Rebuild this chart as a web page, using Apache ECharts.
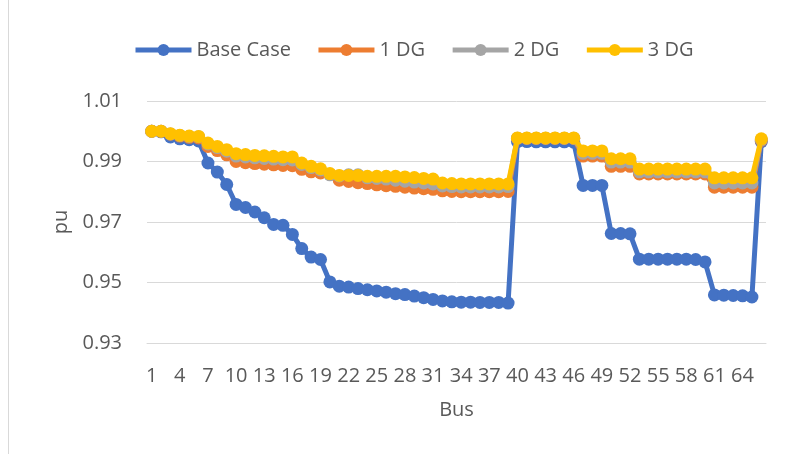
<!DOCTYPE html>
<html>
<head>
<meta charset="utf-8">
<script src="https://cdn.jsdelivr.net/npm/echarts@6/dist/echarts.min.js"></script>
<style>
html,body{margin:0;padding:0;background:#fff;}
#chart{width:788px;height:454px;}
</style>
</head>
<body>
<div id="chart"></div>
<script>
// Bus numbers (categories)
var buses = [];
for (var b = 1; b <= 66; b++) buses.push(String(b));

var yTicks = [0.93, 0.95, 0.97, 0.99, 1.01];

var baseCase = [
  1.0000, 0.9998, 0.9981, 0.9975, 0.9972, 0.9968, 0.9895, 0.9865, 0.9824, 0.9758,
  0.9748, 0.9733, 0.9714, 0.9692, 0.9689, 0.9659, 0.9612, 0.9584, 0.9576, 0.9502,
  0.9488, 0.9485, 0.9480, 0.9476, 0.9472, 0.9468, 0.9463, 0.9460, 0.9455, 0.9450,
  0.9444, 0.9439, 0.9436, 0.9435, 0.9435, 0.9434, 0.9434, 0.9434, 0.9432,
  0.9966, 0.9966, 0.9965, 0.9965, 0.9965, 0.9965, 0.9964,
  0.9821, 0.9821, 0.9821,
  0.9662, 0.9662, 0.9661,
  0.9577, 0.9577, 0.9577, 0.9577, 0.9577, 0.9577, 0.9576, 0.9568,
  0.9459, 0.9458, 0.9457, 0.9456, 0.9452,
  0.9966
];

var dg1 = [
  1.0000, 1.0000, 0.9990, 0.9984, 0.9980, 0.9978, 0.9950, 0.9936, 0.9922, 0.9900,
  0.9896, 0.9893, 0.9891, 0.9889, 0.9887, 0.9886, 0.9874, 0.9866, 0.9862, 0.9858,
  0.9838, 0.9834, 0.9830, 0.9827, 0.9823, 0.9820, 0.9818, 0.9815, 0.9812, 0.9810,
  0.9808, 0.9803, 0.9801, 0.9800, 0.9800, 0.9800, 0.9800, 0.9800, 0.9801,
  0.9976, 0.9976, 0.9976, 0.9976, 0.9976, 0.9976, 0.9976,
  0.9918, 0.9918, 0.9918,
  0.9884, 0.9884, 0.9884,
  0.9859, 0.9859, 0.9859, 0.9859, 0.9859, 0.9859, 0.9859, 0.9859,
  0.9815, 0.9815, 0.9815, 0.9815, 0.9815,
  0.9970
];

var dg2 = [
  1.0000, 1.0000, 0.9991, 0.9986, 0.9983, 0.9982, 0.9958, 0.9946, 0.9934, 0.9918,
  0.9915, 0.9912, 0.9910, 0.9908, 0.9906, 0.9905, 0.9890, 0.9880, 0.9872, 0.9856,
  0.9852, 0.9856, 0.9856, 0.9846, 0.9844, 0.9842, 0.9838, 0.9835, 0.9832, 0.9829,
  0.9826, 0.9819, 0.9817, 0.9816, 0.9816, 0.9816, 0.9816, 0.9816, 0.9817,
  0.9977, 0.9977, 0.9977, 0.9977, 0.9977, 0.9977, 0.9977,
  0.9927, 0.9927, 0.9927,
  0.9898, 0.9898, 0.9898,
  0.9866, 0.9866, 0.9866, 0.9866, 0.9866, 0.9866, 0.9866, 0.9866,
  0.9829, 0.9829, 0.9829, 0.9829, 0.9829,
  0.9972
];

var dg3 = [
  1.0000, 1.0000, 0.9992, 0.9987, 0.9984, 0.9983, 0.9961, 0.9950, 0.9939, 0.9926,
  0.9923, 0.9920, 0.9919, 0.9917, 0.9915, 0.9915, 0.9895, 0.9884, 0.9876, 0.9860,
  0.9854, 0.9854, 0.9854, 0.9851, 0.9851, 0.9851, 0.9851, 0.9849, 0.9847, 0.9844,
  0.9842, 0.9829, 0.9827, 0.9826, 0.9826, 0.9826, 0.9826, 0.9826, 0.9826,
  0.9978, 0.9978, 0.9978, 0.9978, 0.9978, 0.9978, 0.9978,
  0.9935, 0.9935, 0.9935,
  0.9909, 0.9909, 0.9909,
  0.9875, 0.9875, 0.9875, 0.9875, 0.9875, 0.9875, 0.9875, 0.9875,
  0.9846, 0.9846, 0.9846, 0.9846, 0.9846,
  0.9975
];

var seriesNames = ['Base Case', '1 DG', '2 DG', '3 DG'];
var seriesColors = ['#4472C4', '#ED7D31', '#A5A5A5', '#FFC000'];
var seriesData = [baseCase, dg1, dg2, dg3];

var FONT = 'Open Sans';
var TXT = '#595959';

var chart = echarts.init(document.getElementById('chart'), null, {renderer: 'canvas'});

var series = seriesData.map(function (d, i) {
  return {
    name: seriesNames[i],
    type: 'line',
    data: d,
    symbol: 'circle',
    symbolSize: 13,
    showAllSymbol: true,
    lineStyle: {color: seriesColors[i], width: 5},
    itemStyle: {color: seriesColors[i], borderColor: seriesColors[i], borderWidth: 0},
    emphasis: {disabled: true},
    z: 2 + i
  };
});

chart.setOption({
  animation: false,
  backgroundColor: '#ffffff',
  textStyle: {fontFamily: FONT},
  graphic: [{
    type: 'line',
    shape: {x1: 8.5, y1: 0, x2: 8.5, y2: 454},
    style: {stroke: '#d9d9d9', lineWidth: 1}
  }],
  legend: {
    data: seriesNames,
    left: 128,
    top: 35,
    itemWidth: 56,
    itemHeight: 15,
    itemGap: 25,
    lineStyle: {width: 5},
    textStyle: {color: TXT, fontSize: 20, fontFamily: FONT}
  },
  grid: {left: 147, right: 22, top: 101, bottom: 111, containLabel: false},
  xAxis: {
    type: 'category',
    data: buses,
    boundaryGap: true,
    name: 'Bus',
    nameLocation: 'middle',
    nameGap: 57,
    nameTextStyle: {color: TXT, fontSize: 20, fontFamily: FONT},
    axisLine: {show: true, lineStyle: {color: '#d9d9d9', width: 1}},
    axisTick: {show: false},
    axisLabel: {interval: 2, color: TXT, fontSize: 20, fontFamily: FONT, margin: 23},
    splitLine: {show: false}
  },
  yAxis: {
    type: 'value',
    min: yTicks[0],
    max: yTicks[yTicks.length - 1],
    interval: 0.02,
    name: 'pu',
    nameLocation: 'middle',
    nameGap: 75,
    nameTextStyle: {color: TXT, fontSize: 20, fontFamily: FONT},
    axisLine: {show: false},
    axisTick: {show: false},
    axisLabel: {color: TXT, fontSize: 20, fontFamily: FONT, margin: 25,
      formatter: function (v) { return Number(v).toFixed(2); }},
    splitLine: {show: true, lineStyle: {color: '#d9d9d9', width: 1}}
  },
  series: series
});
</script>
</body>
</html>
